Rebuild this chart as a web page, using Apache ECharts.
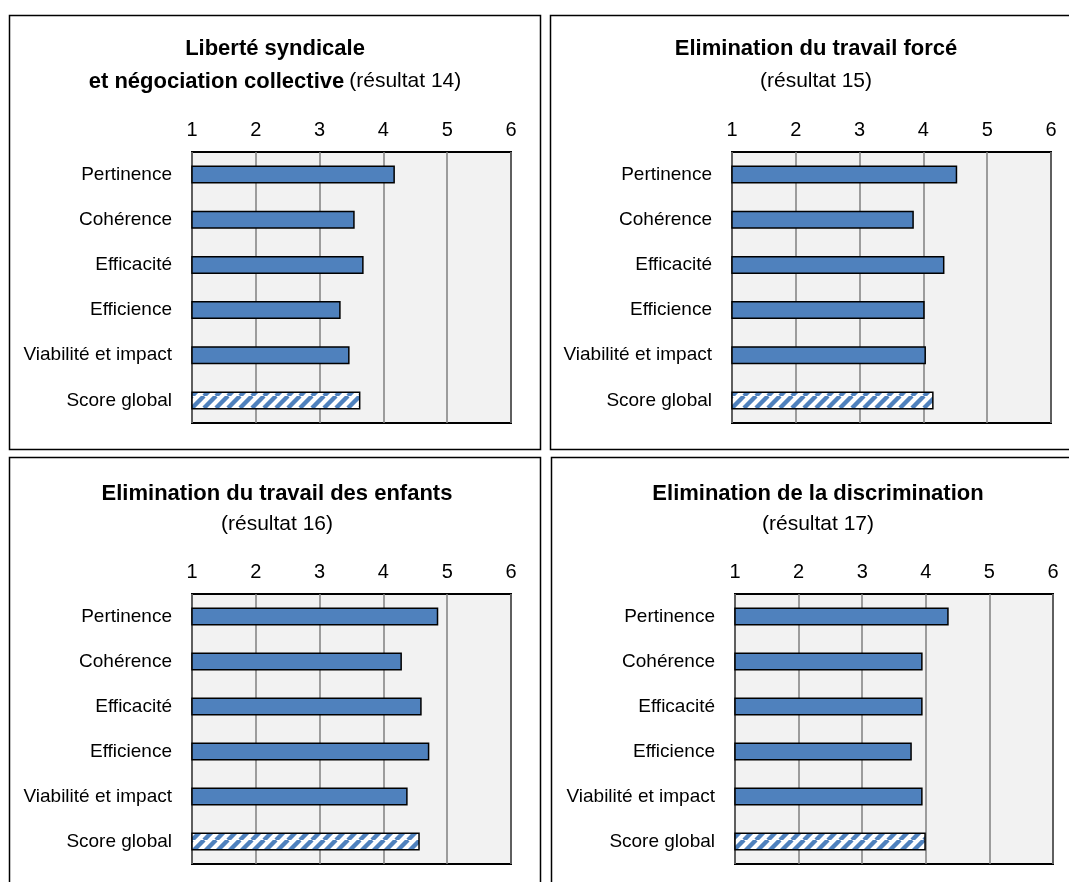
<!DOCTYPE html>
<html><head><meta charset="utf-8">
<script src="https://cdn.jsdelivr.net/npm/echarts@6/dist/echarts.min.js"></script>
<style>html,body{margin:0;padding:0;background:#fff}#c{width:1069px;height:882px}</style>
</head><body><div id="c"></div>
<script>
const categories = ['Pertinence','Cohérence','Efficacité','Efficience','Viabilité et impact','Score global'];
const values14 = [4.18, 3.55, 3.69, 3.33, 3.47, 3.64];
const values15 = [4.53, 3.85, 4.33, 4.02, 4.04, 4.16];
const values16 = [4.86, 4.29, 4.60, 4.72, 4.38, 4.57];
const values17 = [4.36, 3.95, 3.95, 3.78, 3.95, 4.00];
const tickLabels = ['1','2','3','4','5','6'];
const titlesBold = [['Liberté syndicale','et négociation collective'],['Elimination du travail forcé'],['Elimination du travail des enfants'],['Elimination de la discrimination']];
const titlesNormal = ['(résultat 14)','(résultat 15)','(résultat 16)','(résultat 17)'];

const FONT = '"Liberation Sans Narrow","Arial Narrow","Liberation Sans",Arial,sans-serif';
const BLUE = '#4f81bd';

function makePattern(){
  const s = 12;
  const cv = document.createElement('canvas');
  cv.width = s; cv.height = s;
  const ctx = cv.getContext('2d');
  ctx.fillStyle = '#ffffff'; ctx.fillRect(0,0,s,s);
  ctx.strokeStyle = BLUE; ctx.lineWidth = 4.4;
  ctx.beginPath();
  for (let k=-1;k<=1;k++){ ctx.moveTo(k*s, s); ctx.lineTo(k*s+s, 0); }
  ctx.stroke();
  return cv;
}
const pattern = makePattern();

const allValues = [values14, values15, values16, values17];
const grids = [
  {left:192, top:152, width:319, height:271},
  {left:732, top:152, width:319, height:271},
  {left:192, top:594, width:319, height:270},
  {left:735, top:594, width:318, height:270}
];
const titleCenters = [[275,32,33],[816,32,33],[277,478,31],[818,478,31]];

const option = {
  animation:false,
  textStyle:{fontFamily:FONT},
  graphic:[
    {type:'rect', shape:{x:9.5,y:15.5,width:531,height:434}, style:{fill:null, stroke:'#000', lineWidth:1.5}, silent:true},
    {type:'rect', shape:{x:550.5,y:15.5,width:540,height:434}, style:{fill:null, stroke:'#000', lineWidth:1.5}, silent:true},
    {type:'rect', shape:{x:9.5,y:457.5,width:531,height:440}, style:{fill:null, stroke:'#000', lineWidth:1.5}, silent:true},
    {type:'rect', shape:{x:551.5,y:457.5,width:540,height:440}, style:{fill:null, stroke:'#000', lineWidth:1.5}, silent:true}
  ],
  title: titlesBold.map((tb,i)=>{
    let text;
    if (tb.length === 2) text = '{b|'+tb[0]+'}\n{b|'+tb[1]+'} {n|'+titlesNormal[i]+'}';
    else text = '{b|'+tb[0]+'}\n{n|'+titlesNormal[i]+'}';
    const lh = titleCenters[i][2];
    return {
      text, left: titleCenters[i][0], top: titleCenters[i][1], textAlign:'center', padding:0,
      textStyle:{ rich:{
        b:{fontFamily:FONT, fontWeight:'bold', fontSize:22, color:'#000', lineHeight:lh},
        n:{fontFamily:FONT, fontWeight:'normal', fontSize:21, color:'#000', lineHeight:lh}
      }}
    };
  }),
  grid: grids.map(g=>Object.assign({show:true, backgroundColor:'#f2f2f2', borderColor:'#000', borderWidth:2, containLabel:false}, g)),
  xAxis: grids.map((g,i)=>({
    type:'value', gridIndex:i, position:'top', min:1, max:6, interval:1,
    axisLine:{show:false}, axisTick:{show:false},
    axisLabel:{fontFamily:FONT, fontSize:20, color:'#000', margin:12, formatter:(v)=>tickLabels[Math.round(v)-1]},
    splitLine:{show:true, lineStyle:{color:'#7f7f7f', width:1.5}}
  })),
  yAxis: grids.map((g,i)=>({
    type:'category', gridIndex:i, inverse:true, data:categories,
    axisLine:{show:false}, axisTick:{show:false},
    axisLabel:{fontFamily:FONT, fontSize:19, color:'#000', margin:20, padding:[6,0,0,0]},
    splitLine:{show:false}
  })),
  series: allValues.map((vals,i)=>({
    type:'bar', xAxisIndex:i, yAxisIndex:i, barWidth:18, clip:true,
    data: vals.map((v,j)=>({
      value:v,
      itemStyle: j === vals.length-1
        ? {color:{image:pattern, repeat:'repeat'}, borderColor:'#000', borderWidth:1.5}
        : {color:BLUE, borderColor:'#000', borderWidth:1.5}
    }))
  }))
};
const chart = echarts.init(document.getElementById('c'), null, {renderer:'canvas'});
chart.setOption(option);
</script></body></html>
